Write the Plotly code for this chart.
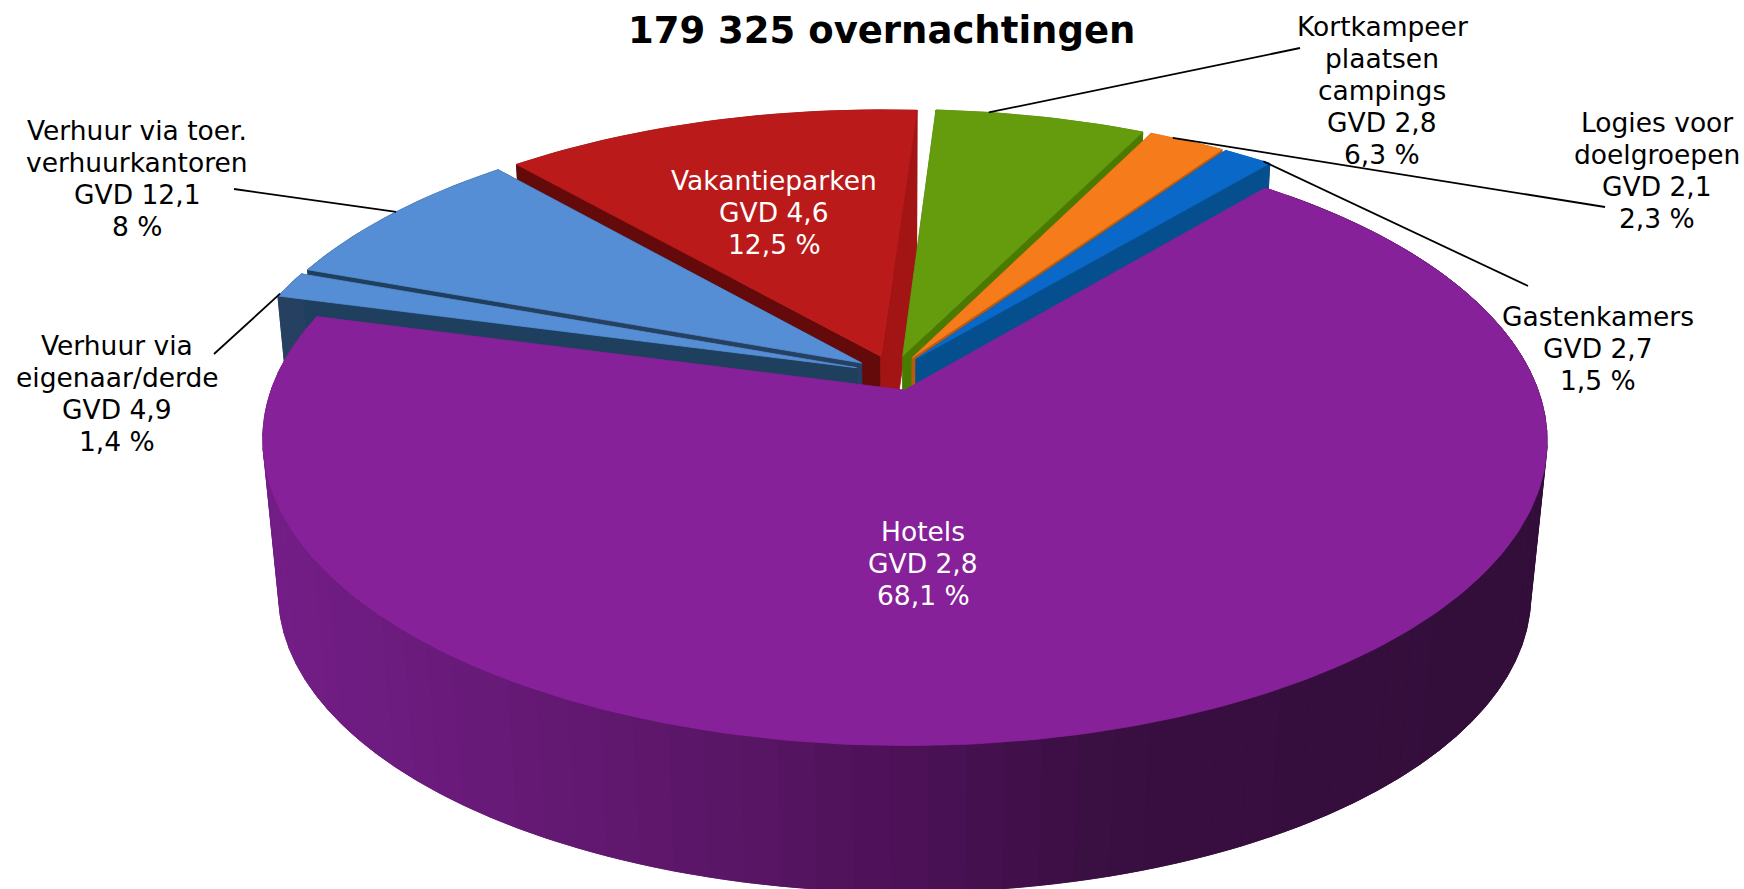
import numpy as np
import plotly.graph_objects as go

# ---- data ----
categories = ["Kortkampeer<br>plaatsen<br>campings", "Logies voor<br>doelgroepen", "Gastenkamers", "Hotels",
              "Verhuur via<br>eigenaar/derde", "Verhuur via toer.<br>verhuurkantoren", "Vakantieparken"]
shares = [6.3, 2.3, 1.5, 68.1, 1.4, 8, 12.5]
gvd = [2.8, 2.1, 2.7, 2.8, 4.9, 12.1, 4.6]
title_text = "179 325 overnachtingen"

# ---- styles ----
top_colors = ["#659C0E", "#F57B1B", "#0A68C8", "#87219A", "#558ED5", "#558ED5", "#BA1A1A"]
rim_colors = ["#4F7F08", "#C05F10", "#064F8F", "#4E1259", "#254061", "#254061", "#8A1010"]
cut_a = ["#4F7F08", "#B85A10", "#064F8F", "#4E1259", "#254061", "#1F3F5F", "#640A0A"]
cut_b = ["#4A7A00", "#B85A10", "#064F8F", "#4E1259", "#1F3F5F", "#254061", "#A31414"]
text_colors = ["black", "black", "black", "white", "black", "black", "white"]
label_pos = [(1382, 90), (1657, 170), (1598, 348), (923, 563), (117, 393), (137, 178), (774, 212)]
leader_end = [(1300, 48), (1605, 207), (1528, 286), None, (214, 354), (234, 189), None]
leader_frac = [0.25, 0.3, 0.85, None, 0.1, 0.52, None]
draw_order = [6, 5, 4, 0, 1, 2, 3]
FONT = "DejaVu Sans"
LINE_GAP = 32

# ---- projection ----
CX, CY, AX, BY, K = 893.0, 373.0, 637.0, 296.0, 0.165
SHRINK, DROP = 0.975, 156.0
EXPLODE, RADIUS = 0.06, 0.985
START = 86.3

def proj(X, Y, z=0.0):
    w = 1 + K * np.asarray(Y)
    s = 1 - (1 - SHRINK) * z
    return CX + s * AX * np.asarray(X) / w, CY - s * BY * np.asarray(Y) / w + DROP * z

total = sum(shares)
ends = START - np.cumsum(shares) / total * 360
starts = np.concatenate([[START], ends[:-1]])

fig = go.Figure()

def poly(xs, ys, color):
    xs = list(xs) + [xs[0]]
    ys = list(ys) + [ys[0]]
    fig.add_trace(go.Scatter(x=xs, y=ys, mode="lines", fill="toself", fillcolor=color,
                             line=dict(color=color, width=0.8), hoverinfo="skip", showlegend=False))

def hex2rgb(h):
    return np.array([int(h[i:i + 2], 16) for i in (1, 3, 5)], float)

GRAD_X = [262, 740, 900, 1110, 1550]
GRAD_C = ["#741E88", "#5A1666", "#4E1259", "#3A0F42", "#330E3A"]

def hotel_col(x):
    c = [np.interp(x, GRAD_X, [hex2rgb(g)[j] for g in GRAD_C]) for j in range(3)]
    return "rgb(%d,%d,%d)" % tuple(c)

def slice_geom(i):
    a0, a1 = np.radians(starts[i]), np.radians(ends[i])
    mid = (a0 + a1) / 2
    return a0, a1, EXPLODE * np.cos(mid), EXPLODE * np.sin(mid)

for i in draw_order:
    a0, a1, ox, oy = slice_geom(i)
    n = max(8, int(abs(a1 - a0) * 60))
    t = np.linspace(a0, a1, n)
    X = ox + RADIUS * np.cos(t)
    Y = oy + RADIUS * np.sin(t)
    xt, yt = proj(X, Y, 0)
    xb, yb = proj(X, Y, 1)
    if i == 3:
        # outer wall: overlapping bands so that no seams show
        step = 3
        for j in range(0, n - 1, step):
            e = min(j + step * 2, n - 1)
            seg = list(range(j, e + 1))
            c = hotel_col(xt[min(j + step // 2, n - 1)])
            poly([xt[s] for s in seg] + [xb[s] for s in reversed(seg)],
                 [yt[s] for s in seg] + [yb[s] for s in reversed(seg)], c)
    else:
        poly(list(xt) + list(xb[::-1]), list(yt) + list(yb[::-1]), rim_colors[i])
        ax_t, ay_t = proj(ox, oy, 0)
        ax_b, ay_b = proj(ox, oy, 1)
        poly([ax_t, xt[0], xb[0], ax_b], [ay_t, yt[0], yb[0], ay_b], cut_a[i])
        poly([ax_t, xt[-1], xb[-1], ax_b], [ay_t, yt[-1], yb[-1], ay_b], cut_b[i])
    ax_t, ay_t = proj(ox, oy, 0)
    poly([ax_t] + list(xt), [ay_t] + list(yt), top_colors[i])

# leaders
for i, end in enumerate(leader_end):
    if end is None:
        continue
    a0, a1, ox, oy = slice_geom(i)
    t = a0 + (a1 - a0) * leader_frac[i]
    sx, sy = proj(ox + RADIUS * np.cos(t), oy + RADIUS * np.sin(t), 0)
    fig.add_trace(go.Scatter(x=[float(sx), end[0]], y=[float(sy), end[1]], mode="lines",
                             line=dict(color="black", width=1.8), hoverinfo="skip", showlegend=False))

# labels: one text per line, so the leading can follow the reference
fmt = lambda v: str(v).replace(".", ",")
for i, name in enumerate(categories):
    lines = name.split("<br>") + [f"GVD {fmt(gvd[i])}", f"{fmt(shares[i])} %"]
    for k, ln in enumerate(lines):
        fig.add_annotation(x=label_pos[i][0], y=label_pos[i][1] + (k - (len(lines) - 1) / 2) * LINE_GAP,
                           xref="x", yref="y", showarrow=False, text=ln,
                           font=dict(family=FONT, size=26.5, color=text_colors[i]))
fig.add_annotation(x=881, y=30, xref="x", yref="y", showarrow=False, text=f"<b>{title_text}</b>",
                   font=dict(family=FONT, size=37, color="black"))

fig.update_layout(width=1744, height=889, margin=dict(l=0, r=0, t=0, b=0), autosize=False,
                  plot_bgcolor="white", paper_bgcolor="white", showlegend=False,
                  xaxis=dict(range=[0, 1744], visible=False, fixedrange=True),
                  yaxis=dict(range=[889, 0], visible=False, fixedrange=True))
fig.write_html("out.html", config=dict(displayModeBar=False),
               post_script="document.body.style.margin='0';document.body.style.overflow='hidden';")
